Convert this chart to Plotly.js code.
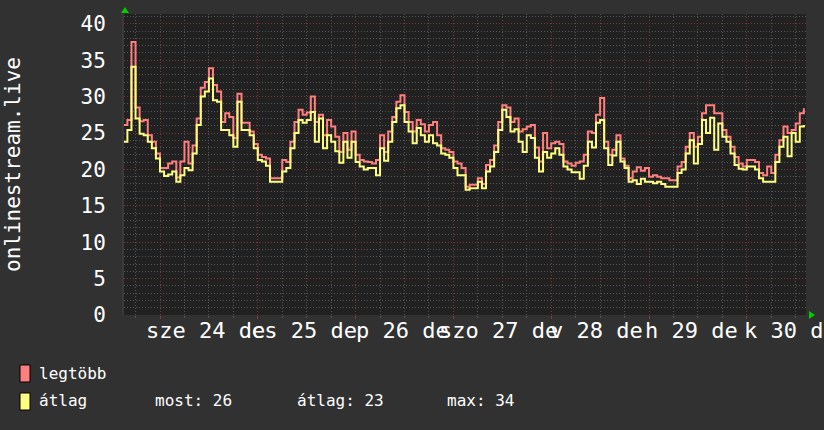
<!DOCTYPE html>
<html>
<head>
<meta charset="utf-8">
<script src="https://cdn.plot.ly/plotly-3.0.1.min.js"></script>
<style>html,body{margin:0;padding:0;background:#313131;}#chart{width:824px;height:430px;}</style>
</head>
<body>
<div id="chart"></div>
<script>
// Hourly samples, first one at 9 hours before "sze 24" 00:00
const startHour = -9;
const maxValues = [
  26.1, 26.8, 37.5, 28.5, 26.6, 26.8, 24.7, 23.8, 22.2, 20.2,
  20.2, 20.8, 21.1, 18.9, 21.1, 23.8, 20.8, 23.3, 27.0, 31.2,
  32.0, 33.9, 31.6, 30.7, 26.5, 27.7, 27.2, 24.3, 30.4, 26.4,
  26.4, 25.2, 23.5, 22.0, 21.7, 21.5, 18.8, 18.8, 18.8, 21.3,
  21.0, 23.8, 26.5, 28.2, 27.5, 27.8, 30.0, 26.5, 27.5, 24.7,
  26.8, 25.9, 24.5, 22.4, 25.0, 22.7, 25.2, 22.0, 21.3, 21.1,
  21.0, 20.8, 21.3, 24.7, 22.4, 25.2, 27.2, 29.3, 30.2, 27.9,
  26.5, 25.2, 26.8, 26.2, 25.2, 26.1, 26.5, 24.7, 22.9, 22.7,
  22.4, 21.1, 20.8, 20.2, 17.6, 17.9, 17.9, 18.8, 18.0, 20.6,
  21.3, 23.3, 26.5, 28.8, 28.5, 26.5, 27.0, 25.2, 25.5, 25.9,
  26.1, 23.0, 21.1, 25.0, 22.9, 23.6, 23.8, 23.5, 21.1, 20.8,
  20.5, 20.9, 21.1, 22.0, 25.2, 25.0, 27.5, 29.8, 23.8, 22.0,
  22.7, 24.7, 21.5, 20.5, 18.8, 19.7, 20.3, 19.8, 20.2, 19.0,
  19.2, 19.0, 18.8, 18.8, 18.5, 18.5, 20.4, 21.0, 23.1, 25.0,
  23.1, 24.5, 27.7, 28.8, 28.8, 27.7, 27.7, 25.4, 24.5, 23.1,
  21.7, 20.8, 20.4, 21.3, 21.3, 21.0, 19.5, 19.2, 20.4, 19.5,
  22.0, 24.0, 25.9, 25.0, 25.4, 26.3, 27.7, 28.4
];
const avgValues = [
  23.8, 25.4, 34.1, 27.0, 24.9, 24.7, 23.8, 22.9, 21.5, 19.7,
  19.1, 19.3, 19.7, 18.3, 19.2, 20.2, 19.9, 22.2, 26.1, 30.0,
  30.7, 32.5, 29.5, 29.3, 25.4, 25.4, 24.7, 23.1, 29.3, 25.4,
  25.4, 24.7, 22.9, 21.3, 21.1, 20.5, 18.3, 18.3, 18.3, 19.7,
  20.2, 22.9, 25.0, 26.8, 26.4, 26.8, 27.9, 23.8, 27.0, 22.9,
  24.7, 23.8, 22.5, 20.9, 23.8, 21.6, 23.8, 21.0, 20.4, 20.0,
  20.2, 20.2, 19.2, 22.9, 21.2, 23.8, 26.5, 28.4, 28.8, 26.5,
  25.2, 23.6, 25.7, 24.7, 23.8, 24.7, 23.6, 23.3, 22.2, 22.0,
  21.6, 20.2, 19.2, 19.2, 17.2, 17.4, 17.4, 18.3, 17.4, 19.7,
  20.4, 22.4, 25.4, 28.2, 27.2, 25.2, 25.5, 23.8, 22.4, 24.7,
  24.3, 21.6, 19.7, 22.4, 21.6, 22.2, 22.9, 22.0, 20.4, 20.0,
  19.6, 19.6, 18.7, 20.5, 23.8, 23.0, 26.4, 26.8, 22.9, 20.6,
  21.9, 23.8, 21.1, 20.2, 18.3, 18.5, 18.0, 18.7, 18.3, 18.3,
  18.1, 18.3, 18.0, 17.6, 17.6, 17.6, 19.5, 20.0, 22.2, 24.0,
  20.8, 23.5, 26.8, 25.0, 27.1, 22.7, 26.3, 24.5, 23.8, 22.2,
  20.6, 20.1, 20.0, 20.4, 20.4, 20.0, 18.8, 18.3, 18.3, 18.3,
  21.0, 23.1, 24.5, 21.8, 25.0, 23.8, 25.9, 26.1
];
// x-axis label texts and their centre positions (hours since sze 24 00:00)
const xLabels = ["sze 24 de", "cs 25 de", "p 26 de", "szo 27 de", "v 28 de", "h 29 de", "k 30 de"];
const xLabelHours = [11.2, 35.4, 59.4, 83.1, 107.2, 130.5, 154.6];
const yTicks = [0, 5, 10, 15, 20, 25, 30, 35, 40];
const seriesNames = ["legtöbb", "átlag"];
const seriesColors = ["#ff7f7f", "#ffff7f"];
const yTitle = "onlinestream.live";
const statLabels = ["most", "átlag", "max"];

const times = maxValues.map((_, i) => startHour + i);
const lastAvg = avgValues[avgValues.length - 1];
const meanAvg = avgValues.reduce((a, b) => a + b, 0) / avgValues.length;
const maxAvg = Math.max(...avgValues);
const statValues = [Math.round(lastAvg), Math.round(meanAvg), Math.round(maxAvg)];

// layout geometry (pixels)
const L = 124, R = 806, T = 14, B = 315, W = 824, H = 430;
const px = x => (x - L) / (R - L);
const py = y => (B - y) / (B - T);
const mono = "DejaVu Sans Mono";

const traces = [
  {x: times, y: maxValues, type: "scatter", mode: "lines", line: {shape: "hv", color: seriesColors[0], width: 2}, name: seriesNames[0], hoverinfo: "skip"},
  {x: times, y: avgValues, type: "scatter", mode: "lines", line: {shape: "hv", color: seriesColors[1], width: 2}, name: seriesNames[1], hoverinfo: "skip"}
];

const annotations = [];
xLabels.forEach((t, i) => annotations.push({
  x: xLabelHours[i], xref: "x", y: py(331), yref: "paper", text: t, showarrow: false,
  xanchor: "center", yanchor: "middle", font: {family: mono, size: 22, color: "#ffffff"}
}));
annotations.push({x: px(13), xref: "paper", y: py(165), yref: "paper", text: yTitle, textangle: -90,
  showarrow: false, xanchor: "center", yanchor: "middle", font: {family: mono, size: 21, color: "#ffffff"}});
annotations.push({x: px(37), xref: "paper", y: py(373), yref: "paper", text: seriesNames[0], showarrow: false,
  xanchor: "left", yanchor: "middle", font: {family: mono, size: 16, color: "#ffffff"}});
annotations.push({x: px(37), xref: "paper", y: py(401), yref: "paper", text: seriesNames[1], showarrow: false,
  xanchor: "left", yanchor: "middle", font: {family: mono, size: 16, color: "#ffffff"}});
const statX = [153, 295, 445];
statLabels.forEach((s, i) => annotations.push({x: px(statX[i]), xref: "paper", y: py(401), yref: "paper",
  text: s + ": " + statValues[i], showarrow: false, xanchor: "left", yanchor: "middle",
  font: {family: mono, size: 16, color: "#ffffff"}}));

const shapes = [
  {type: "rect", xref: "paper", yref: "paper", x0: px(20), x1: px(30), y0: py(365), y1: py(382), fillcolor: seriesColors[0], line: {color: "#000000", width: 1}},
  {type: "rect", xref: "paper", yref: "paper", x0: px(20), x1: px(30), y0: py(393), y1: py(410), fillcolor: seriesColors[1], line: {color: "#000000", width: 1}},
  {type: "path", xref: "paper", yref: "paper", path: `M ${px(121)} ${py(13)} L ${px(129)} ${py(13)} L ${px(125)} ${py(7)} Z`, fillcolor: "#00cc00", line: {width: 0}},
  {type: "path", xref: "paper", yref: "paper", path: `M ${px(809)} ${py(311)} L ${px(809)} ${py(319)} L ${px(815)} ${py(315)} Z`, fillcolor: "#00cc00", line: {width: 0}}
];

const layout = {
  width: W, height: H,
  margin: {l: L, r: W - R, t: T, b: H - B, pad: 0},
  paper_bgcolor: "#313131",
  plot_bgcolor: "#212121",
  showlegend: false,
  xaxis: {
    range: [(L - 160) / 4.075, (R - 160) / 4.075],
    tick0: 0, dtick: 24,
    showticklabels: false,
    ticks: "outside", ticklen: 3, tickcolor: "#8a3a3a",
    showgrid: true, gridcolor: "#7a3535", griddash: "1px,2px", gridwidth: 1,
    minor: {dtick: 6, tick0: 0, showgrid: true, gridcolor: "#555555", griddash: "1px,2px", gridwidth: 1, ticks: "outside", ticklen: 2, tickcolor: "#555555"},
    zeroline: false, showline: false, fixedrange: true
  },
  yaxis: {
    range: [0, (B - T) / 7.28],
    tickvals: yTicks,
    ticktext: yTicks.map(String),
    tickfont: {family: mono, size: 21, color: "#ffffff"},
    ticks: "", ticklabelstandoff: 12,
    showgrid: true, gridcolor: "#7a3535", griddash: "1px,2px", gridwidth: 1,
    minor: {dtick: 1, tick0: 0, showgrid: true, gridcolor: "#555555", griddash: "1px,2px", gridwidth: 1},
    zeroline: false, showline: true, linecolor: "#3a3a3a", linewidth: 2, fixedrange: true
  },
  annotations: annotations,
  shapes: shapes
};

Plotly.newPlot("chart", traces, layout, {staticPlot: true, displayModeBar: false});
</script>
</body>
</html>
